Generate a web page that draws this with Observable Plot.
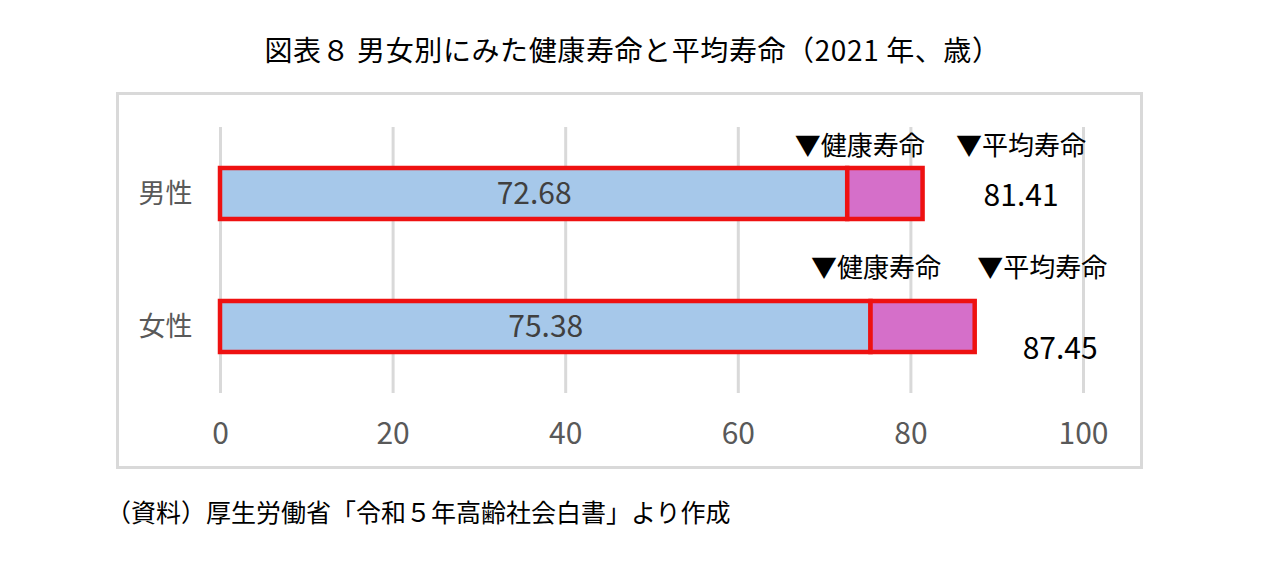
<!DOCTYPE html>
<html><head><meta charset="utf-8">
<script src="https://cdn.jsdelivr.net/npm/d3@7"></script>
<script src="https://cdn.jsdelivr.net/npm/@observablehq/plot@0.6"></script>
<style>
body{margin:0;background:#fff;width:1265px;height:570px;position:relative;font-family:"Noto Sans CJK JP",sans-serif;overflow:hidden;}
#title{position:absolute;left:0;width:1265px;top:30px;text-align:center;font-size:28px;letter-spacing:0.6px;line-height:38px;color:#000;white-space:nowrap;}
#frame{position:absolute;left:116px;top:92px;width:1021px;height:371px;border:3px solid #d9d9d9;}
#frame svg{display:block;}
#caption{position:absolute;left:106px;top:494px;font-size:25px;line-height:34px;color:#000;white-space:nowrap;}
</style></head><body>
<div id="title">図表８ 男女別にみた健康寿命と平均寿命（2021 年、歳）</div>
<div id="frame"></div>
<div id="caption">（資料）厚生労働省「令和５年高齢社会白書」より作成</div>
<script>
const sexes = ["男性", "女性"];
const healthyLife = [72.68, 75.38];
const averageLife = [81.41, 87.45];
const xTicks = [0, 20, 40, 60, 80, 100];
const annotHealthy = "▼健康寿命";
const annotAverage = "▼平均寿命";

const rows = sexes.map((s, i) => ({sex: s, healthy: healthyLife[i], average: averageLife[i]}));

// label placement offsets (pixels), per row
const place = {
  "男性": {hdx: 12, hdy: -47, adx: 98, ady: -47, vdx: 98, vdy: 2},
  "女性": {hdx: 5, hdy: -58, adx: 67, ady: -58, vdx: 85, vdy: 22}
};

const font = '"Noto Sans CJK JP", sans-serif';
const redStroke = "#ee1111";

const perRowMarks = rows.flatMap(r => {
  const p = place[r.sex];
  return [
    Plot.text([r], {x: "healthy", y: "sex", text: () => annotHealthy, dx: p.hdx, dy: p.hdy, fontSize: 26, fill: "#000"}),
    Plot.text([r], {x: "average", y: "sex", text: () => annotAverage, dx: p.adx, dy: p.ady, fontSize: 26, fill: "#000"}),
    Plot.text([r], {x: "average", y: "sex", text: d => d.average.toFixed(2), dx: p.vdx, dy: p.vdy, fontSize: 30, fill: "#000"})
  ];
});

const chart = Plot.plot({
  width: 1021,
  height: 371,
  marginLeft: 101,
  marginRight: 57,
  marginTop: 32,
  marginBottom: 73,
  style: {fontFamily: font, background: "transparent", overflow: "visible"},
  x: {domain: [0, 100]},
  y: {domain: sexes, paddingInner: 0.62, paddingOuter: 0.31},
  marks: [
    Plot.gridX(xTicks, {stroke: "#d9d9d9", strokeOpacity: 1, strokeWidth: 3}),
    Plot.axisX(xTicks, {tickSize: 0, tickPadding: 29, fontSize: 30, fill: "#595959", label: null}),
    Plot.axisY({tickSize: 0, tickPadding: 28, fontSize: 27, fill: "#595959", label: null}),
    Plot.barX(rows, {x1: () => 0, x2: "healthy", y: "sex", fill: "#a6c8ea", stroke: redStroke, strokeWidth: 4.5}),
    Plot.barX(rows, {x1: "healthy", x2: "average", y: "sex", fill: "#d56fc9", stroke: redStroke, strokeWidth: 4.5}),
    Plot.text(rows, {x: d => d.healthy / 2, y: "sex", text: d => d.healthy.toFixed(2), fill: "#404040", fontSize: 30}),
    ...perRowMarks
  ]
});
document.getElementById("frame").appendChild(chart);
</script>
</body></html>
